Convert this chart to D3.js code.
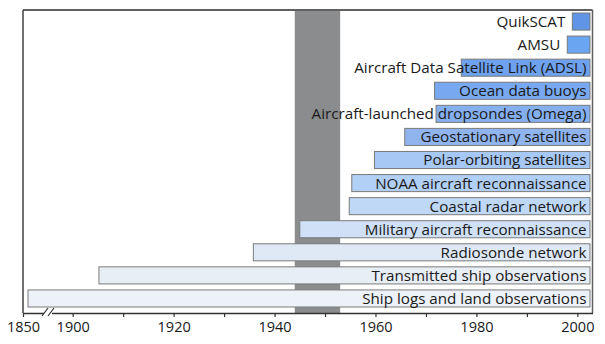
<!DOCTYPE html>
<html><head><meta charset="utf-8">
<script src="https://cdn.jsdelivr.net/npm/d3@7"></script>
<style>body{margin:0;background:#fff}svg{display:block}text{font-family:"Open Sans",sans-serif}</style>
</head><body><svg id="c" width="605" height="344"></svg>
<script>
const categories = ["QuikSCAT","AMSU","Aircraft Data Satellite Link (ADSL)","Ocean data buoys","Aircraft-launched dropsondes (Omega)","Geostationary satellites","Polar-orbiting satellites","NOAA aircraft reconnaissance","Coastal radar network","Military aircraft reconnaissance","Radiosonde network","Transmitted ship observations","Ship logs and land observations"];
const startYears = [1999,1998,1977,1971.7,1972,1965.8,1959.8,1955.3,1954.8,1945,1935.8,1905.2,1851];
const endYears = [2002.5,2002.5,2002.5,2002.5,2002.5,2002.5,2002.5,2002.5,2002.5,2002.5,2002.5,2002.5,2002.5];
const colors = ["#5f95e4","#69a5f0","#6ea2ee","#78a9f0","#85b0f0","#8fb4ee","#a7c8f5","#b2cff5","#bfd8f6","#d0e1f7","#dfe9f6","#e8eef6","#edf2f8"];
const majorTicks = [1850,1900,1920,1940,1960,1980,2000];
const minorTicks = [1910,1930,1950,1970,1990];
const band = [1944,1953];

const svg = d3.select("#c");
const x = d3.scaleLinear().domain([1850,1854.2,1895.9,2003]).range([23,44,52,592.5]);
const y = d3.scaleBand().domain(categories).range([10,310]).paddingInner(0.26).paddingOuter(0.13);
const yTop=10,yBot=313;

svg.append("rect").attr("x",x(band[0])).attr("y",yTop).attr("width",x(band[1])-x(band[0])).attr("height",yBot-yTop).attr("fill","#8a8c8e");

const g = svg.append("g");
g.selectAll("rect").data(categories).join("rect")
  .attr("x",(d,i)=>x(startYears[i])).attr("y",d=>y(d))
  .attr("width",(d,i)=>x(endYears[i])-x(startYears[i])).attr("height",y.bandwidth())
  .attr("fill",(d,i)=>colors[i]).attr("stroke","#7a7a7a").attr("stroke-width",1);
const outside = (i)=> x(endYears[i])-x(startYears[i]) < 40;
g.selectAll("text").data(categories).join("text")
  .attr("x",(d,i)=> outside(i) ? x(startYears[i])-7 : x(2003)-6)
  .attr("y",d=>y(d)+y.bandwidth()/2).attr("dy","0.36em")
  .attr("text-anchor","end").attr("font-size",15.2).attr("fill","#1a1a1a").text(d=>d);

// frame
svg.append("line").attr("x1",x(1850)).attr("x2",x(2003)).attr("y1",yTop).attr("y2",yTop).attr("stroke","#606060").attr("stroke-width",2);
svg.append("line").attr("x1",x(2003)).attr("x2",x(2003)).attr("y1",yTop).attr("y2",yBot).attr("stroke","#606060").attr("stroke-width",1.5);
svg.append("line").attr("x1",x(1850)).attr("x2",x(1850)).attr("y1",yTop).attr("y2",yBot).attr("stroke","#404040").attr("stroke-width",1.5);

const axis = d3.axisBottom(x).tickValues(majorTicks.concat(minorTicks)).tickSize(4).tickSizeOuter(0)
  .tickFormat(d=>majorTicks.includes(d)?d:"");
const ax = svg.append("g").attr("transform",`translate(0,${yBot})`).call(axis);
ax.select(".domain").attr("stroke","#333").attr("stroke-width",1.5);
ax.selectAll(".tick line").attr("stroke","#333").attr("stroke-width",1.2);
ax.selectAll(".tick text").attr("font-size",14.5).attr("fill","#1a1a1a").attr("font-family","'Open Sans',sans-serif").attr("y",8.5);

// axis break
const bx = (x(1854.2)+x(1895.9))/2;
svg.append("rect").attr("x",bx-4).attr("y",yBot-2).attr("width",8).attr("height",4).attr("fill","#fff");
[-3,3].forEach(o=>svg.append("line").attr("x1",bx+o-3).attr("x2",bx+o+3).attr("y1",yBot+3).attr("y2",yBot-5).attr("stroke","#333").attr("stroke-width",1.2));
</script></body></html>
